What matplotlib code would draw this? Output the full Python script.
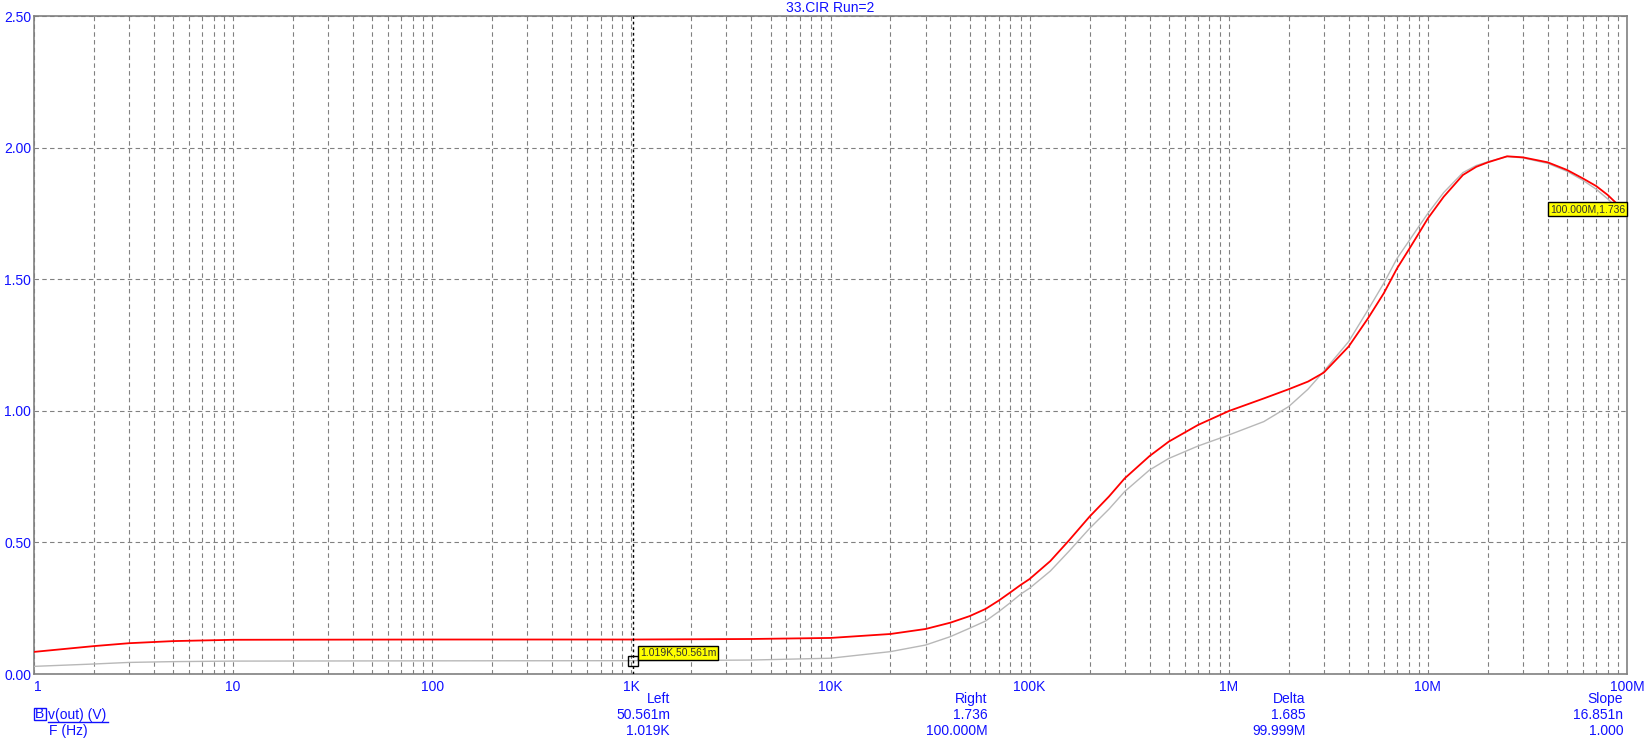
import numpy as np
import matplotlib.pyplot as plt
from matplotlib.ticker import FixedLocator, NullFormatter
from matplotlib.patches import Rectangle

# frequency points (Hz)
freq = [1, 2, 3, 5, 10, 100, 1e3, 4e3, 1e4, 2e4, 3e4, 4e4, 5e4, 6e4, 7e4, 8e4,
        9e4, 1e5, 1.27e5, 1.57e5, 2e5, 2.5e5, 3e5, 4e5, 5e5, 7e5, 1e6, 1.5e6,
        2e6, 2.5e6, 3e6, 4e6, 5e6, 6e6, 7e6, 8e6, 9e6, 1e7, 1.2e7, 1.5e7,
        1.75e7, 2e7, 2.5e7, 3e7, 4e7, 5e7, 6e7, 7e7, 8e7, 1e8]
# v(out) run 2 (red)
v_red = [0.084, 0.106, 0.117, 0.125, 0.130, 0.131, 0.131, 0.133, 0.137, 0.152,
         0.171, 0.195, 0.220, 0.247, 0.279, 0.310, 0.338, 0.361, 0.429, 0.506,
         0.598, 0.674, 0.743, 0.828, 0.883, 0.946, 0.999, 1.047, 1.082, 1.111,
         1.145, 1.244, 1.351, 1.446, 1.541, 1.611, 1.674, 1.731, 1.813, 1.896,
         1.927, 1.944, 1.967, 1.963, 1.944, 1.915, 1.883, 1.854, 1.820, 1.750]
# v(out) run 1 (gray)
v_gray = [0.029, 0.038, 0.044, 0.047, 0.049, 0.050, 0.0506, 0.053, 0.060, 0.085,
          0.110, 0.142, 0.174, 0.201, 0.237, 0.271, 0.303, 0.326, 0.391, 0.465,
          0.553, 0.626, 0.693, 0.775, 0.819, 0.866, 0.908, 0.959, 1.016, 1.082,
          1.150, 1.263, 1.383, 1.484, 1.579, 1.643, 1.700, 1.750, 1.829, 1.905,
          1.932, 1.946, 1.966, 1.961, 1.940, 1.910, 1.876, 1.842, 1.805, 1.736]

x_ticks = [1, 10, 100, 1e3, 1e4, 1e5, 1e6, 1e7, 1e8]
x_labels = ['1', '10', '100', '1K', '10K', '100K', '1M', '10M', '100M']
y_ticks = [0.0, 0.5, 1.0, 1.5, 2.0, 2.5]
y_labels = ['0.00', '0.50', '1.00', '1.50', '2.00', '2.50']

cursor_left = (1019, 0.050561)
cursor_right = (1e8, 1.736)
heads = ['Left', 'Right', 'Delta', 'Slope']
vals_v = ['50.561m', '1.736', '1.685', '16.851n']
vals_f = ['1.019K', '100.000M', '99.999M', '1.000']

W, H = 1652, 750
BLUE = '#1010ff'
GRID = '#808080'
plt.rcParams['font.family'] = ['Liberation Sans', 'DejaVu Sans']


def fx(px):
    return px / W


def fy(py):
    return 1 - py / H


fig = plt.figure(figsize=(W / 100, H / 100), dpi=100)
ax = fig.add_axes([fx(34), fy(674), (1627 - 34) / W, (674 - 16) / H])

ax.plot(freq, v_gray, color='#b8b8b8', lw=1.0, zorder=3)
ax.plot(freq, v_red, color='#ff0000', lw=1.3, zorder=4)

ax.set_xscale('log')
ax.set_xlim(1, 1e8)
ax.set_ylim(0, 2.5)
ax.xaxis.set_major_locator(FixedLocator(x_ticks))
ax.xaxis.set_minor_locator(FixedLocator(
    [m * 10 ** k for k in range(8) for m in range(2, 10)]))
ax.xaxis.set_minor_formatter(NullFormatter())
ax.set_xticklabels(x_labels)
ax.set_yticks(y_ticks)
ax.set_yticklabels(y_labels)
ax.xaxis.get_majorticklabels()[0].set_horizontalalignment('left')
ax.tick_params(which='both', length=0, labelcolor=BLUE, labelsize=10)
ax.tick_params(axis='x', pad=4)
ax.tick_params(axis='y', pad=2)

ax.grid(True, which='both', axis='x', color=GRID, ls=(0, (4, 3)), lw=0.8)
ax.grid(True, which='major', axis='y', color=GRID, ls=(0, (4, 3)), lw=0.8)
for s in ax.spines.values():
    s.set_color(GRID)
    s.set_linewidth(1.2)

# cursors
ax.axvline(cursor_left[0], color='black', ls=(0, (2, 2)), lw=1.0, zorder=5)
ax.plot([cursor_left[0]], [cursor_left[1]], marker='s', ms=7, mfc='none',
        mec='black', mew=1.0, zorder=6)
ax.annotate('1.019K,50.561m', xy=cursor_left, xytext=(7, 3),
            textcoords='offset pixels', ha='left', va='bottom', fontsize=7.5,
            color='#303030', zorder=7,
            bbox=dict(boxstyle='square,pad=0.2', fc='#ffff00', ec='black', lw=1))
ax.annotate('100.000M,1.736', xy=cursor_right, xytext=(-2, 3),
            textcoords='offset pixels', ha='right', va='bottom', fontsize=7.5,
            color='#303030', zorder=7, annotation_clip=False,
            bbox=dict(boxstyle='square,pad=0.2', fc='#ffff00', ec='black', lw=1))

fig.text(fx(830.5), fy(8), '33.CIR Run=2', color=BLUE, fontsize=10,
         ha='center', va='center')

# readout block under the plot
cols = [670, 987.7, 1305.7, 1623.3]
for x, h, v, f in zip(cols, heads, vals_v, vals_f):
    fig.text(fx(x), fy(699), h, color=BLUE, fontsize=10, ha='right', va='center')
    fig.text(fx(x), fy(715), v, color=BLUE, fontsize=10, ha='right', va='center')
    fig.text(fx(x), fy(731), f, color=BLUE, fontsize=10, ha='right', va='center')

fig.patches.append(Rectangle((fx(33.5), fy(720)), 12 / W, 12 / H, fill=False,
                             ec=BLUE, lw=1, transform=fig.transFigure))
fig.text(fx(39.5), fy(714.5), 'B', color=BLUE, fontsize=10, ha='center', va='center')
fig.text(fx(48.5), fy(714.5), 'v(out) (V)', color=BLUE, fontsize=10,
         ha='left', va='center')
fig.add_artist(plt.Line2D([fx(48), fx(108)], [fy(721.5), fy(721.5)],
                          color=BLUE, lw=1, transform=fig.transFigure))
fig.text(fx(49), fy(731), 'F (Hz)', color=BLUE, fontsize=10, ha='left', va='center')

fig.savefig('out.png', dpi=100, facecolor='white')
